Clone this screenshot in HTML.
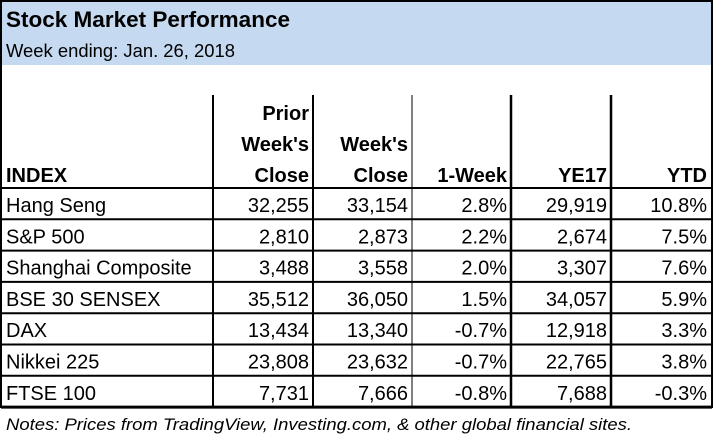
<!DOCTYPE html>
<html><head><meta charset="utf-8"><style>
html,body{margin:0;padding:0;background:#fff;}
svg{display:block;font-family:"Liberation Sans",Arial,sans-serif;}
</style></head><body>
<svg id="tbl" width="714" height="440" viewBox="0 0 714 440">
<rect x="1" y="1" width="711" height="64" fill="#c5d9f1"/>
<text x="6" y="27" font-size="22" font-weight="bold" textLength="284" lengthAdjust="spacingAndGlyphs">Stock Market Performance</text>
<text x="6" y="57" font-size="18.5" textLength="229" lengthAdjust="spacingAndGlyphs">Week ending: Jan. 26, 2018</text>
<g id="grid"></g>
<g id="cells"></g>
<text x="6" y="430" font-size="17" font-style="italic" textLength="626" lengthAdjust="spacingAndGlyphs">Notes: Prices from TradingView, Investing.com, &amp; other global financial sites.</text>
<path d="M1,408 L1,1 L712,1 L712,408" fill="none" stroke="#000" stroke-width="2"/>
</svg>
<script>
const indices = ["Hang Seng","S&P 500","Shanghai Composite","BSE 30 SENSEX","DAX","Nikkei 225","FTSE 100"];
const priorClose = ["32,255","2,810","3,488","35,512","13,434","23,808","7,731"];
const weekClose = ["33,154","2,873","3,558","36,050","13,340","23,632","7,666"];
const oneWeek = ["2.8%","2.2%","2.0%","1.5%","-0.7%","-0.7%","-0.8%"];
const ye17 = ["29,919","2,674","3,307","34,057","12,918","22,765","7,688"];
const ytd = ["10.8%","7.5%","7.6%","5.9%","3.3%","3.8%","-0.3%"];
const headers = [["INDEX"],["Prior","Week's","Close"],["Week's","Close"],["1-Week"],["YE17"],["YTD"]];

const NS="http://www.w3.org/2000/svg";
const colX=[1,213,313,412,511,611,711];
const colW=[2,2,2,1,2.5,2.5,2];
const headTop=95, headBot=188, rowH=31.3;
const grid=document.getElementById('grid'), cells=document.getElementById('cells');
function line(x1,y1,x2,y2,w,name){
  const l=document.createElementNS(NS,'line');
  l.setAttribute('x1',x1);l.setAttribute('y1',y1);l.setAttribute('x2',x2);l.setAttribute('y2',y2);
  l.setAttribute('stroke','#000');l.setAttribute('stroke-width',w);
  
  
  grid.appendChild(l);
}
function txt(x,y,s,anchor,bold,name){
  const t=document.createElementNS(NS,'text');
  t.setAttribute('x',x);t.setAttribute('y',y);t.setAttribute('font-size','20');
  t.setAttribute('text-anchor',anchor);
  if(bold)t.setAttribute('font-weight','bold');
  t.textContent=s;
  
  
  cells.appendChild(t);
}
const bottom=headBot+rowH*indices.length;
for(let i=1;i<colX.length-1;i++) line(colX[i],headTop,colX[i],bottom,colW[i],'column-divider');
for(let r=0;r<=indices.length;r++) line(1,headBot+r*rowH,712,headBot+r*rowH,r===indices.length?3:2,'row-divider');
headers.forEach((h,c)=>{
  const n=h.length;
  h.forEach((s,k)=>{
    const y=182-(n-1-k)*31;
    if(c===0) txt(6,y,s,'start',true,'header-index');
    else txt(colX[c+1]-4,y,s,'end',true,'header-cell');
  });
});
const cols=[priorClose,weekClose,oneWeek,ye17,ytd];
indices.forEach((name,r)=>{
  const y=headBot+r*rowH+24;
  txt(6,y,name,'start',false,'index-name');
  cols.forEach((arr,c)=>{ txt(colX[c+2]-4,y,arr[r],'end',false,'value-cell'); });
});
</script>
</body></html>
